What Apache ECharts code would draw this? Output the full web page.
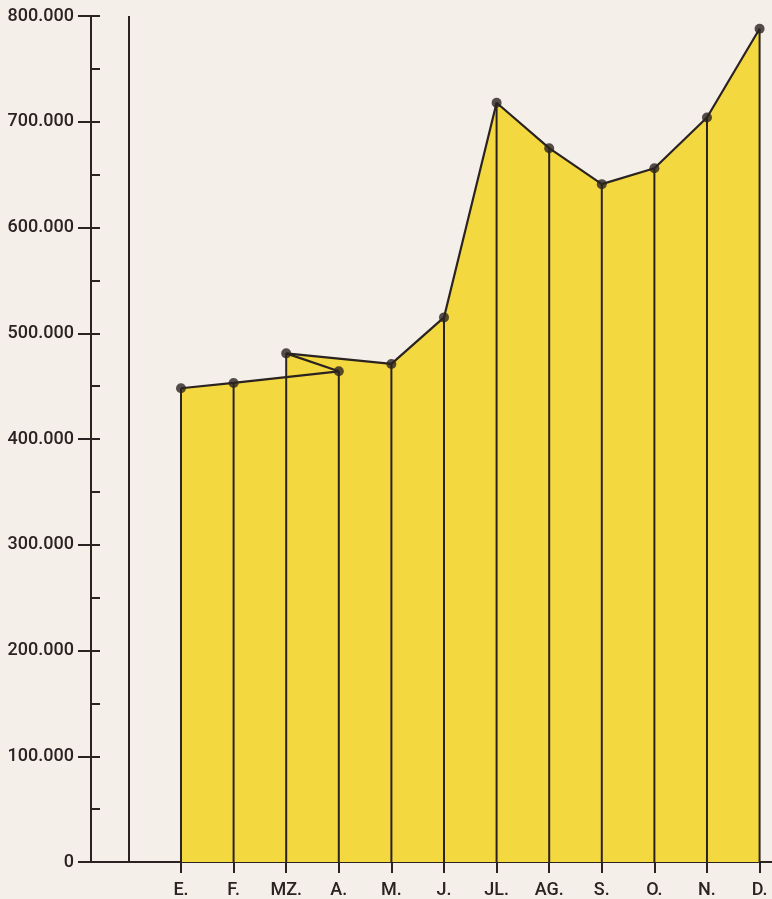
<!DOCTYPE html>
<html>
<head>
<meta charset="utf-8">
<script src="https://cdn.jsdelivr.net/npm/echarts@6/dist/echarts.min.js"></script>
<style>
html,body{margin:0;padding:0;background:#f5efea;}
#c{width:772px;height:899px;}
</style>
</head>
<body>
<div id="c"></div>
<script>
// Data
const months = ['E.', 'F.', 'MZ.', 'A.', 'M.', 'J.', 'JL.', 'AG.', 'S.', 'O.', 'N.', 'D.'];
const values = [448000, 453000, 481000, 464000, 471000, 515000, 718000, 675000, 641000, 656000, 704000, 788000];
// Drawing order of the original outline: E-F-A lower path, MZ-A diagonal, MZ-M-...-D upper path
const lowerPath = ['E.', 'F.', 'A.'];
const diagonalPath = ['MZ.', 'A.'];
const upperPath = ['MZ.', 'M.', 'J.', 'JL.', 'AG.', 'S.', 'O.', 'N.', 'D.'];

const INK = '#2a2321';
const YELLOW = '#f4d83f';

const pt = m => { const i = months.indexOf(m); return [i, values[i]]; };
const allPts = months.map((m, i) => [i, values[i]]);
const idx = months.map((m, i) => i);

function fmt(v) {
  if (v === 0) return '0';
  return String(v).replace(/\B(?=(\d{3})+(?!\d))/g, '.');
}

const chart = echarts.init(document.getElementById('c'));
chart.setOption({
  backgroundColor: '#f5efea',
  animation: false,
  grid: { left: 91, right: 0, top: 16, bottom: 37 },
  xAxis: {
    type: 'value',
    min: -1.711, max: 11.236,
    axisLine: { show: true, onZero: false, lineStyle: { color: INK, width: 2 } },
    axisTick: { show: true, customValues: idx, length: 11, lineStyle: { color: INK, width: 2 } },
    axisLabel: {
      customValues: idx,
      formatter: v => months[Math.round(v)] || '',
      margin: 19, fontFamily: 'Roboto', fontWeight: 500, fontSize: 18, color: INK
    },
    splitLine: { show: false }
  },
  yAxis: [{
    type: 'value', min: 0, max: 800000, interval: 100000,
    axisLine: { show: true, onZero: false, lineStyle: { color: INK, width: 2 } },
    axisTick: { show: true, length: 13, lineStyle: { color: INK, width: 2 } },
    axisLabel: { formatter: fmt, margin: 17, fontFamily: 'Roboto', fontWeight: 500, fontSize: 18, color: INK },
    splitLine: { show: false }
  }, {
    type: 'value', min: 0, max: 800000, interval: 50000, position: 'left',
    axisLine: { show: false, onZero: false },
    axisTick: { show: true, inside: true, length: 9, lineStyle: { color: INK, width: 2 } },
    axisLabel: { show: false },
    splitLine: { show: false }
  }],
  series: [
    { type: 'line', data: lowerPath.map(pt), symbol: 'none', lineStyle: { width: 0 },
      areaStyle: { color: YELLOW, opacity: 1 }, z: 1 },
    { type: 'line', data: upperPath.map(pt), symbol: 'none', lineStyle: { width: 0 },
      areaStyle: { color: YELLOW, opacity: 1 }, z: 1,
      markLine: { silent: true, symbol: 'none', label: { show: false },
        lineStyle: { color: INK, width: 2, type: 'solid' }, data: [{ xAxis: -1 }] } },
    { type: 'bar', data: allPts, barWidth: 2, itemStyle: { color: INK }, z: 2 },
    { type: 'line', data: lowerPath.map(pt), symbol: 'none', lineStyle: { color: INK, width: 2.2 }, z: 3 },
    { type: 'line', data: diagonalPath.map(pt), symbol: 'none', lineStyle: { color: INK, width: 2.2 }, z: 3 },
    { type: 'line', data: upperPath.map(pt), symbol: 'none', lineStyle: { color: INK, width: 2.2 }, z: 3 },
    { type: 'scatter', data: allPts, symbolSize: 10, itemStyle: { color: INK }, z: 4 }
  ]
});
</script>
</body>
</html>
